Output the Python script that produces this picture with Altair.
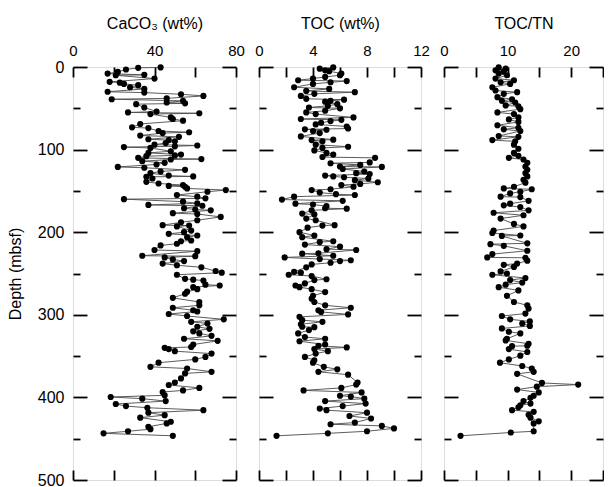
import altair as alt
import pandas as pd

# ---------------- data ----------------
caco3_depth = [0.5, 1, 3, 6, 8, 9.5, 10, 14, 18, 19, 20.5, 22, 24.5, 26.5, 30, 31, 33, 35, 38, 39,
               41, 43, 44, 45, 49, 54, 55, 56, 57, 61, 63, 65, 69, 73, 74, 77.5, 79, 80, 83, 84.5,
               87.5, 88.5, 90, 92, 94, 95, 96, 97, 98, 102, 104, 106, 107, 108, 110, 111.5, 112, 114, 116, 118,
               121, 122, 124.5, 126.5, 128.5, 131.5, 132.5, 133, 135, 139, 141, 143, 144, 145, 147, 149, 151, 155, 157, 159,
               160, 163, 165, 167, 168, 171, 172.5, 173.5, 177, 178, 181.5, 185.5, 188, 191.5, 192, 193, 198, 200, 202, 204,
               206, 210, 211, 214, 216, 221.5, 223, 228.5, 229, 230.5, 233, 235, 238, 240, 242.5, 247, 249, 251.5, 256.5, 257.5,
               258.5, 263.5, 264.5, 266.5, 269, 272, 274.5, 279.5, 284.5, 288.5, 291.5, 294.5, 296, 299, 301.5, 305.5, 308.5, 310.5, 314.5, 317,
               320, 322.5, 325.5, 329, 331.5, 336, 339, 340, 341.5, 344, 347, 351, 354, 358, 363, 365, 369, 371, 377, 382,
               385, 388.5, 391.5, 393.5, 397.5, 399.5, 401.5, 404.5, 408, 410.5, 412.5, 415.5, 418.5, 421.5, 424.5, 429.5, 431.5, 435.5, 438.5, 441,
               443.5, 446.5]
caco3_val = [43, 32, 26, 22, 17, 35, 21, 40, 18, 23, 25, 32, 28, 35, 17, 35, 53, 64, 46, 19,
             54, 46, 55, 31, 35, 41, 27, 62, 38, 48, 49, 54, 33, 29, 37, 42, 57, 44, 33, 52,
             37, 47, 50, 45.5, 40, 61, 50, 25, 38, 48, 37, 53, 50, 36, 32, 63, 48, 34, 45, 41,
             22, 35, 55, 43, 38, 47, 59, 36, 39, 36, 42, 54, 47, 55, 56, 75, 66, 51, 61, 65,
             25, 54, 61, 37, 63.5, 54.5, 60, 67.6, 49, 61, 72.5, 61, 53, 44, 57, 51, 58, 54.5, 47, 61,
             56, 58, 53, 51, 43, 40, 61, 34, 60, 45, 49, 54.5, 44, 51, 63, 70, 73, 51, 55, 59,
             64, 65, 72, 59, 61, 56, 55, 49, 62, 62, 49, 59, 61, 47, 56, 74, 58, 66, 61, 67,
             59, 62, 68, 54.5, 71, 59, 58, 45, 47, 50, 68, 65, 60, 42, 38, 56, 68, 55, 53, 50,
             47, 62, 54, 44, 45, 18.5, 34, 45.5, 21, 26, 36.5, 64, 37, 45, 33, 48, 46, 37, 38, 27,
             15, 49]

toc_depth = [0.5, 2, 4, 5, 8, 10, 12, 14, 16, 17, 18.5, 20.5, 24.5, 26.5, 29, 30.5, 32.5, 35, 38.5, 39.5,
             41, 42, 45, 47, 49, 50, 53, 55, 57, 61, 63, 64, 65.5, 67.5, 69.5, 72, 74.5, 75.5, 76, 77.5,
             80, 84, 88, 88.5, 90, 94, 96.5, 98, 101, 104, 106, 109, 110, 115.5, 116.5, 118.5, 120.5, 121, 123.5, 126.5,
             128.5, 129.5, 131.5, 132.5, 133.5, 135, 137, 139.5, 141.5, 143, 145, 148, 149, 152, 154, 155, 157, 160.5, 162, 165.5,
             166.5, 168.5, 171, 171.5, 173.5, 177.5, 178.5, 183.5, 185.5, 191.5, 192, 194.5, 200, 204, 206, 211, 212, 215, 217.5, 220.5,
             221.5, 225.5, 226, 228.5, 230.5, 232.5, 234, 235, 237, 239, 242.5, 248, 249, 251.5, 253, 257, 258, 262, 264.5, 266.5,
             269, 272.5, 277, 280.5, 284.5, 288.5, 291.5, 294.5, 296.5, 299.5, 302.5, 306.5, 308.5, 311.5, 314.5, 315, 318.5, 322.5, 327, 329,
             332, 336, 337.5, 339.5, 341.5, 344, 347, 351, 355, 358, 363, 366, 369, 372.5, 382, 384.5, 388.5, 391.5, 394, 398,
             399, 401.5, 404.5, 407.5, 410.5, 413.5, 415.5, 418.5, 422.5, 425.5, 430.5, 432.5, 434.5, 437.5, 441, 443.5, 446.5]
toc_val = [5.5, 4.5, 4.9, 5.2, 6.1, 6.0, 4.9, 4.0, 2.9, 6.5, 5.3, 4.0, 2.6, 5.2, 3.5, 7.1, 4.1, 3.1, 3.5, 6.3,
           5.3, 4.9, 5.8, 5.1, 3.7, 6.0, 4.9, 3.5, 4.2, 7.0, 3.1, 6.1, 5.3, 4.6, 4.2, 6.5, 6.6, 3.4, 5.0, 4.0,
           4.5, 3.1, 5.5, 3.9, 4.7, 4.2, 6.6, 4.7, 4.1, 5.0, 5.5, 4.7, 8.6, 8.2, 5.3, 7.5, 6.0, 9.1, 6.2, 7.8,
           7.2, 8.2, 4.9, 5.5, 6.3, 8.1, 7.1, 8.8, 7.5, 6.1, 7.0, 5.3, 3.9, 4.5, 5.7, 7.1, 2.6, 1.7, 6.2, 2.7,
           4.0, 5.0, 4.9, 6.5, 3.9, 3.2, 4.1, 3.5, 4.2, 5.6, 4.7, 3.6, 3.0, 4.1, 3.2, 5.5, 4.5, 3.4, 6.0, 5.0,
           7.2, 4.4, 3.2, 5.5, 1.9, 4.5, 6.8, 6.0, 5.3, 3.9, 3.5, 2.6, 3.1, 2.2, 3.9, 5.0, 4.1, 3.4, 2.7, 3.0,
           3.9, 4.9, 4.0, 3.9, 4.1, 4.9, 6.8, 4.4, 4.6, 6.6, 3.0, 3.2, 4.7, 3.1, 3.2, 4.1, 3.7, 2.9, 3.4, 4.9,
           3.0, 4.9, 4.4, 6.5, 4.1, 5.1, 4.2, 3.4, 4.1, 4.0, 4.8, 5.8, 4.4, 6.6, 7.3, 7.2, 6.1, 3.3, 7.6, 6.0,
           6.8, 7.8, 4.9, 7.9, 6.2, 4.5, 5.0, 8.0, 6.7, 8.3, 7.1, 5.3, 9.1, 10.0, 8.0, 5.1, 1.3]

tn_depth = [0.5, 2, 4, 5.5, 8, 10, 14, 16, 18.5, 20.5, 24.5, 28.5, 30.5, 32.5, 36.5, 39, 41, 43, 46.5, 47.5,
            51, 55, 57, 61, 63.5, 66.5, 70.5, 73.5, 75.5, 77.5, 83.5, 84.5, 88.5, 90, 94, 99, 104, 107.5, 110, 112,
            116, 120.5, 124.5, 128.5, 132.5, 136.5, 140, 145, 147, 148, 151, 153, 157, 157.5, 162, 165.5, 167.5, 169.5, 173.5, 176.5,
            179.5, 183.5, 190, 193, 198, 201, 204, 204.5, 213.5, 214.5, 216.5, 222.5, 226.5, 230.5, 231, 234.5, 238, 239.5, 242, 247.5,
            250, 251.5, 255.5, 258, 261, 263.5, 266.5, 270.5, 277, 284.5, 288.5, 292.5, 298.5, 301.5, 305.5, 308, 310.5, 313.5, 316.5, 320.5,
            322.5, 329, 331, 335, 337.5, 338, 341.5, 345, 349.5, 354, 358, 362, 365, 369, 371.5, 382.5, 384.5, 387, 390.5, 394,
            398, 400.5, 404.5, 407.5, 409.5, 412, 415.5, 417.5, 421, 424.5, 429, 431.5, 441, 442.5, 446.5]
tn_val = [8.6, 9.7, 8.1, 9.4, 8.6, 9.9, 8.1, 11.0, 8.9, 10.4, 7.6, 8.1, 11.5, 9.4, 8.4, 10.7, 9.1, 11.2, 9.7, 11.7,
          12.0, 8.4, 11.0, 11.7, 10.2, 11.7, 8.4, 11.7, 9.4, 12.0, 8.6, 11.7, 7.6, 11.2, 11.0, 11.7, 11.0, 11.7, 10.2, 12.5,
          13.1, 12.8, 13.1, 12.8, 13.1, 12.5, 12.8, 11.0, 9.4, 13.8, 12.0, 10.4, 8.9, 12.0, 13.3, 10.4, 9.4, 12.0, 13.3, 7.8,
          12.5, 8.9, 11.0, 12.5, 7.8, 7.6, 12.0, 9.1, 13.1, 7.3, 9.4, 13.1, 7.6, 6.8, 12.8, 13.1, 11.5, 9.4, 11.0, 8.9,
          9.9, 7.6, 12.8, 10.4, 12.3, 9.7, 8.6, 11.7, 9.9, 11.0, 13.1, 13.3, 12.8, 9.1, 10.4, 13.5, 12.3, 13.5, 9.1, 10.2,
          12.0, 9.9, 9.7, 13.3, 13.1, 10.7, 10.2, 13.1, 12.0, 10.2, 8.8, 12.3, 13.8, 14.1, 11.5, 15.4, 21.1, 14.6, 11.5, 14.9,
          14.1, 13.6, 12.5, 13.6, 12.0, 11.7, 10.7, 14.1, 13.3, 13.6, 14.9, 14.1, 14.1, 10.5, 2.6]

depth_ticks = [0, 50, 100, 150, 200, 250, 300, 350, 400, 450, 500]

FONT = "Liberation Sans"
TICK_W = 1.8
MAJOR_DASH = {"condition": {"test": "datum.value % 100 === 0", "value": [14, 3000]}, "value": [7, 3000]}


def panel(depth, vals, xmax, label_vals, tick_vals, title, width, first):
    df = pd.DataFrame({"depth": depth, "v": vals})
    xs = alt.Scale(domain=[0, xmax], nice=False, zero=False)
    ys = alt.Scale(domain=[0, 500], reverse=True, nice=False)
    base = alt.Chart(df)
    lab_list = "[" + ",".join(str(v) for v in label_vals) + "]"

    # top: labels outside, short inward ticks drawn as dashed grid segments
    top_axis = alt.Axis(orient="top", values=tick_vals, ticks=False, tickSize=0, domain=False,
                        labelExpr=f"indexof({lab_list}, datum.value) >= 0 ? datum.label : ''",
                        labelOverlap=False, labelPadding=9, labelFontSize=15, labelFlush=False,
                        title=title, titleFontSize=16, titleFontWeight="normal", titlePadding=12,
                        grid=True, gridColor="black", gridWidth=TICK_W, gridDash=[10, 3000])
    bottom_axis = alt.Axis(orient="bottom", values=tick_vals, ticks=False, labels=False, domain=False,
                           title=None, grid=True, gridColor="black", gridWidth=TICK_W, gridDash=[10, 3000])
    left_axis = alt.Axis(orient="left", values=depth_ticks, ticks=False, tickSize=0, domain=False,
                         labels=first, labelExpr="datum.value % 100 === 0 ? datum.label : ''",
                         labelOverlap=False, labelPadding=9, labelFontSize=16, labelFlush=False,
                         title="Depth (mbsf)" if first else None, titleFontSize=16,
                         titleFontWeight="normal", titlePadding=14,
                         grid=True, gridColor="black", gridWidth=TICK_W, gridDash=MAJOR_DASH)
    right_axis = alt.Axis(orient="right", values=depth_ticks, ticks=False, labels=False, domain=False,
                          title=None, grid=True, gridColor="black", gridWidth=TICK_W, gridDash=MAJOR_DASH)

    l1 = base.mark_line(color="#4a4a4a", strokeWidth=0.9).encode(
        x=alt.X("v:Q", scale=xs, axis=top_axis),
        y=alt.Y("depth:Q", scale=ys, axis=left_axis),
        order=alt.Order("depth:Q"),
    )
    l2 = base.mark_circle(color="black", size=38, opacity=1).encode(
        x=alt.X("v:Q", scale=xs, axis=bottom_axis),
        y=alt.Y("depth:Q", scale=ys, axis=right_axis),
    )
    return alt.layer(l1, l2).resolve_axis(x="independent", y="independent").properties(
        width=width, height=413)


p1 = panel(caco3_depth, caco3_val, 80, [0, 40, 80], [0, 20, 40, 60, 80], "CaCO₃ (wt%)", 163, True)
p2 = panel(toc_depth, toc_val, 12, [0, 4, 8, 12], [0, 2, 4, 6, 8, 10, 12], "TOC (wt%)", 162, False)
p3 = panel(tn_depth, tn_val, 25, [0, 10, 20], [0, 5, 10, 15, 20, 25], "TOC/TN", 159, False)

chart = alt.hconcat(p1, p2, p3, spacing=23, bounds="flush").properties(
    padding={"left": 6, "top": 14, "right": 0, "bottom": 0}
).configure_view(stroke="black", strokeWidth=2).configure_axis(
    labelFont=FONT, titleFont=FONT, labelColor="black", titleColor="black"
).configure(background="white")

chart.save("out.html", embed_options={"renderer": "svg", "actions": False})
